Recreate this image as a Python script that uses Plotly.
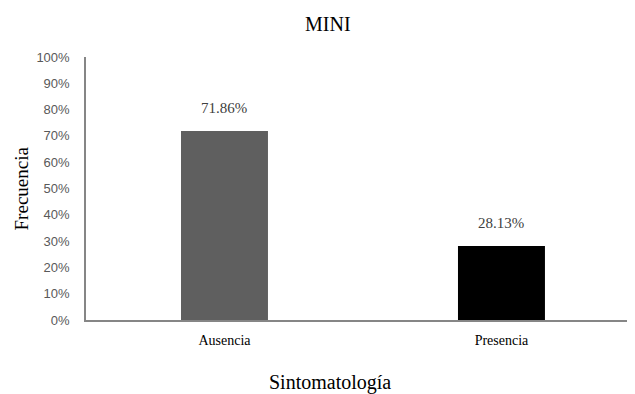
import plotly.graph_objects as go

categories = ["Ausencia", "Presencia"]
values = [71.86, 28.13]
bar_colors = ["#5f5f5f", "#000000"]
y_ticks = list(range(0, 101, 10))
y_tick_labels = [f"{v}%" for v in y_ticks]

serif = "Liberation Serif, Times New Roman, serif"
sans = "Liberation Sans, Arial, sans-serif"

fig = go.Figure()
fig.add_trace(go.Bar(
    x=categories, y=values,
    marker=dict(color=bar_colors, line=dict(width=0)),
    hoverinfo="skip",
))

for c, v in zip(categories, values):
    fig.add_annotation(x=c, y=v, text=f"{v:.2f}%", showarrow=False,
                       yanchor="bottom", yshift=13,
                       font=dict(family=serif, size=15, color="#404040"))

# plot area is 557 px wide; positions below are in paper units of that width
fig.add_annotation(text="MINI", xref="paper", yref="paper", x=0.435, y=1.125,
                   xanchor="center", yanchor="middle", showarrow=False,
                   font=dict(family=serif, size=20, color="#000000"))
fig.add_annotation(text="Sintomatología", xref="paper", yref="paper", x=0.438, y=-0.236,
                   xanchor="center", yanchor="middle", showarrow=False,
                   font=dict(family=serif, size=20, color="#000000"))
fig.add_annotation(text="Frecuencia", xref="paper", yref="paper", x=-0.115, y=0.5,
                   xanchor="center", yanchor="middle", showarrow=False, textangle=-90,
                   font=dict(family=serif, size=19, color="#000000"))

fig.update_layout(
    width=635, height=394,
    margin=dict(l=78, r=0, t=49, b=82, autoexpand=False),
    paper_bgcolor="white", plot_bgcolor="white",
    showlegend=False,
    bargap=0.686,
    xaxis=dict(
        range=[-0.5, 1.511], showline=True, linecolor="#868686", linewidth=1.5,
        ticks="", showgrid=False, zeroline=False, automargin=False,
        tickfont=dict(family=serif, size=14, color="#000000"),
        ticklabelstandoff=6,
    ),
    yaxis=dict(
        range=[0, 100], tickvals=y_ticks, ticktext=y_tick_labels,
        showline=True, linecolor="#868686", linewidth=1.5,
        ticks="", showgrid=False, zeroline=False, automargin=False,
        tickfont=dict(family=sans, size=13, color="#595959"),
        ticklabelstandoff=12,
    ),
)

fig.write_html("out.html")
